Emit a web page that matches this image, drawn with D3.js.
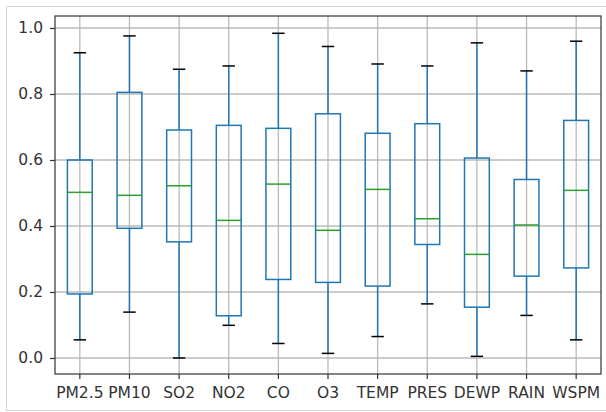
<!DOCTYPE html>
<html><head><meta charset="utf-8">
<script src="https://cdn.jsdelivr.net/npm/d3@7"></script>
<style>body{margin:0;background:#fff}svg{display:block}text{font-family:"DejaVu Sans",sans-serif}</style>
</head><body><svg id="c" width="606" height="412"></svg>
<script>
const categories = ["PM2.5","PM10","SO2","NO2","CO","O3","TEMP","PRES","DEWP","RAIN","WSPM"];
const whiskerLow  = [0.055,0.139,0.000,0.099,0.044,0.014,0.065,0.164,0.005,0.129,0.055];
const q1          = [0.194,0.393,0.352,0.128,0.238,0.229,0.218,0.344,0.154,0.248,0.273];
const median      = [0.502,0.493,0.522,0.417,0.527,0.387,0.511,0.422,0.314,0.403,0.508];
const q3          = [0.600,0.805,0.691,0.705,0.696,0.740,0.681,0.710,0.606,0.541,0.720];
const whiskerHigh = [0.925,0.976,0.875,0.885,0.984,0.944,0.891,0.885,0.955,0.870,0.960];
const yTicks = [0.0,0.2,0.4,0.6,0.8,1.0];

const svg = d3.select("#c");
const L=55,R=601,T=16,B=374;
// outer frame
svg.append("path").attr("d","M606,6.5H6.5V410.5H606").attr("fill","none").attr("stroke","#d4d4d4").attr("stroke-width",1);

const x = d3.scaleBand().domain(categories).range([L,R]).padding(0);
const y = d3.scaleLinear().domain([-0.0485,1.0364]).range([B,T]);
const bw = x.bandwidth();

const g = svg.append("g");
// grid
g.selectAll(".gy").data(yTicks).join("line").attr("x1",L).attr("x2",R)
  .attr("y1",d=>y(d)).attr("y2",d=>y(d)).attr("stroke","#b0b0b0").attr("stroke-width",1.3).attr("opacity",0.85);
g.selectAll(".gx").data(categories).join("line").attr("y1",T).attr("y2",B)
  .attr("x1",d=>x(d)+bw/2).attr("x2",d=>x(d)+bw/2).attr("stroke","#b0b0b0").attr("stroke-width",1.3).attr("opacity",0.85);

const data = categories.map((c,i)=>({c,lo:whiskerLow[i],q1:q1[i],med:median[i],q3:q3[i],hi:whiskerHigh[i]}));
const boxes = g.selectAll(".b").data(data).join("g");
const cx = d=>x(d.c)+bw/2;
boxes.append("line").attr("x1",cx).attr("x2",cx).attr("y1",d=>y(d.q3)).attr("y2",d=>y(d.hi)).attr("stroke","#1f77b4").attr("stroke-width",1.5);
boxes.append("line").attr("x1",cx).attr("x2",cx).attr("y1",d=>y(d.q1)).attr("y2",d=>y(d.lo)).attr("stroke","#1f77b4").attr("stroke-width",1.5);
boxes.append("rect").attr("x",d=>cx(d)-bw*0.25).attr("width",bw*0.5)
  .attr("y",d=>y(d.q3)).attr("height",d=>y(d.q1)-y(d.q3)).attr("fill","none").attr("stroke","#1f77b4").attr("stroke-width",1.5);
boxes.append("line").attr("x1",d=>cx(d)-bw*0.25).attr("x2",d=>cx(d)+bw*0.25).attr("y1",d=>y(d.med)).attr("y2",d=>y(d.med)).attr("stroke","#2ca02c").attr("stroke-width",1.5);
boxes.append("line").attr("x1",d=>cx(d)-bw*0.125).attr("x2",d=>cx(d)+bw*0.125).attr("y1",d=>y(d.hi)).attr("y2",d=>y(d.hi)).attr("stroke","#000").attr("stroke-width",1.5);
boxes.append("line").attr("x1",d=>cx(d)-bw*0.125).attr("x2",d=>cx(d)+bw*0.125).attr("y1",d=>y(d.lo)).attr("y2",d=>y(d.lo)).attr("stroke","#000").attr("stroke-width",1.5);

// axes
const ax = svg.append("g").attr("transform",`translate(0,${B})`).call(d3.axisBottom(x).tickSize(5).tickPadding(8));
const ay = svg.append("g").attr("transform",`translate(${L},0)`).call(d3.axisLeft(y).tickValues(yTicks).tickFormat(d3.format(".1f")).tickSize(5).tickPadding(7));
[ax,ay].forEach(a=>{a.select(".domain").remove();a.selectAll("line").attr("stroke","#333").attr("stroke-width",1.2);
  a.selectAll("text").attr("font-size",15.5).attr("fill","#333").attr("font-family","DejaVu Sans");});
// frame
svg.append("rect").attr("x",L).attr("y",T).attr("width",R-L).attr("height",B-T).attr("fill","none").attr("stroke","#333").attr("stroke-width",1.2);
</script></body></html>
